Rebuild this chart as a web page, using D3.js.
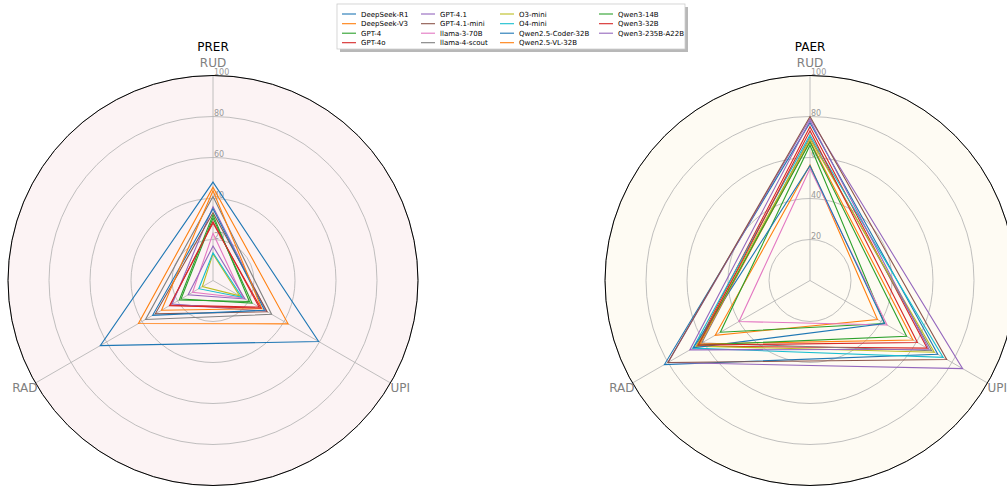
<!DOCTYPE html>
<html>
<head>
<meta charset="utf-8">
<script src="https://cdn.jsdelivr.net/npm/d3@7/dist/d3.min.js"></script>
<style>
  html, body { margin: 0; padding: 0; background: #ffffff; }
  svg { display: block; font-family: "DejaVu Sans", sans-serif; }
</style>
</head>
<body>
<svg id="chart" width="1007" height="486"></svg>
<script>
// Radar axes, clockwise from the top
const axes = ["RUD", "UPI", "RAD"];
const radialTicks = [20, 40, 60, 80, 100];

const models = [
  "DeepSeek-R1", "DeepSeek-V3", "GPT-4", "GPT-4o", "GPT-4.1",
  "GPT-4.1-mini", "llama-3-70B", "llama-4-scout", "O3-mini", "O4-mini",
  "Qwen2.5-Coder-32B", "Qwen2.5-VL-32B", "Qwen3-14B", "Qwen3-32B", "Qwen3-235B-A22B"
];

// Scores per model as [RUD, UPI, RAD]
const prerValues = [
  [48, 59.5, 63.5],
  [45.5, 42.3, 42],
  [30.5, 22, 18],
  [28.7, 26, 24],
  [36, 30, 23],
  [33, 30.5, 32.5],
  [23, 17, 11.5],
  [41, 33, 38],
  [13, 15, 6],
  [13.5, 16.3, 8],
  [35, 29, 34],
  [43.8, 27.5, 29],
  [32, 20.5, 19],
  [28, 27, 24.5],
  [16.8, 18, 14]
];

const paerValues = [
  [77, 72, 82],
  [56.3, 38, 53.4],
  [66, 42, 50.5],
  [75, 66, 64],
  [79, 86, 80],
  [80, 77, 80],
  [54.6, 43.4, 40],
  [70, 68.5, 61],
  [69, 70, 64],
  [71, 75, 66],
  [56, 42, 65.7],
  [68, 58, 62],
  [67.6, 54.4, 63],
  [73, 60.5, 63],
  [78, 67, 67.7]
];

const palette = ["#1f77b4", "#ff7f0e", "#2ca02c", "#d62728", "#9467bd",
                 "#8c564b", "#e377c2", "#7f7f7f", "#bcbd22", "#17becf"];
const color = d3.scaleOrdinal().domain(models).range(palette);

const svg = d3.select("#chart");
const R = 205;
const rScale = d3.scaleLinear().domain([0, 100]).range([0, R]);
const angleScale = d3.scalePoint().domain(axes).range([0, 2 * Math.PI * (axes.length - 1) / axes.length]);

function drawRadar(cx, cy, title, values, bg) {
  const g = svg.append("g").attr("transform", `translate(${cx},${cy})`);

  g.append("circle").attr("r", R).attr("fill", bg);

  // concentric grid rings
  g.selectAll("circle.ring").data(radialTicks).join("circle")
    .attr("class", "ring")
    .attr("r", d => rScale(d))
    .attr("fill", "none")
    .attr("stroke", "#b0b0b0")
    .attr("stroke-width", 0.8);

  // spokes
  g.selectAll("line.spoke").data(axes).join("line")
    .attr("class", "spoke")
    .attr("x1", 0).attr("y1", 0)
    .attr("x2", d => R * Math.sin(angleScale(d)))
    .attr("y2", d => -R * Math.cos(angleScale(d)))
    .attr("stroke", "#b0b0b0")
    .attr("stroke-width", 0.8);

  // radial tick labels along the top spoke
  g.selectAll("text.rtick").data(radialTicks).join("text")
    .attr("class", "rtick")
    .attr("x", 1)
    .attr("y", d => -rScale(d) - 1)
    .attr("font-size", 8)
    .attr("fill", "#999999")
    .text(d => d);

  const line = d3.lineRadial()
    .angle((d, i) => angleScale(axes[i]))
    .radius(d => rScale(d))
    .curve(d3.curveLinearClosed);

  g.selectAll("path.series").data(models).join("path")
    .attr("class", "series")
    .attr("d", (m, i) => line(values[i]))
    .attr("fill", "none")
    .attr("stroke", m => color(m))
    .attr("stroke-width", 1.1);

  // outer frame
  g.append("circle").attr("r", R).attr("fill", "none")
    .attr("stroke", "#000000").attr("stroke-width", 1);

  // axis names
  axes.forEach(a => {
    const ang = angleScale(a);
    const x = R * Math.sin(ang), y = -R * Math.cos(ang);
    let anchor = "middle", dx = 0, dy = 0;
    if (Math.abs(x) < 1) { dy = -9; }
    else if (x > 0) { anchor = "start"; dx = 0; dy = 9; }
    else { anchor = "end"; dx = 2; dy = 9; }
    g.append("text")
      .attr("x", x + dx).attr("y", y + dy)
      .attr("text-anchor", anchor)
      .attr("font-size", 12)
      .attr("fill", "#808080")
      .text(a);
  });

  g.append("text")
    .attr("x", 0).attr("y", -R - 25)
    .attr("text-anchor", "middle")
    .attr("font-size", 12)
    .attr("fill", "#000000")
    .text(title);
}

drawRadar(213, 280.5, "PRER", prerValues, "#fcf3f4");
drawRadar(810, 280.5, "PAER", paerValues, "#fefbf3");

// legend, four columns
const legend = svg.append("g");
const lx = 337, ly = 4, lw = 348, lh = 45;
legend.append("rect").attr("x", lx + 3).attr("y", ly + 3).attr("width", lw).attr("height", lh)
  .attr("fill", "#b8b8b8");
legend.append("rect").attr("x", lx).attr("y", ly).attr("width", lw).attr("height", lh)
  .attr("fill", "#ffffff").attr("stroke", "#cccccc").attr("stroke-width", 0.8);

const colX = [342, 421, 500, 599];
const rowY = [14, 23.7, 33.2, 42.7];
models.forEach((m, i) => {
  const c = Math.floor(i / 4), r = i % 4;
  const x = colX[c], y = rowY[r];
  legend.append("line")
    .attr("x1", x).attr("x2", x + 14)
    .attr("y1", y).attr("y2", y)
    .attr("stroke", color(m)).attr("stroke-width", 1.1);
  legend.append("text")
    .attr("x", x + 19).attr("y", y + 2.5)
    .attr("font-size", 7)
    .attr("fill", "#000000")
    .text(m);
});
</script>
</body>
</html>
